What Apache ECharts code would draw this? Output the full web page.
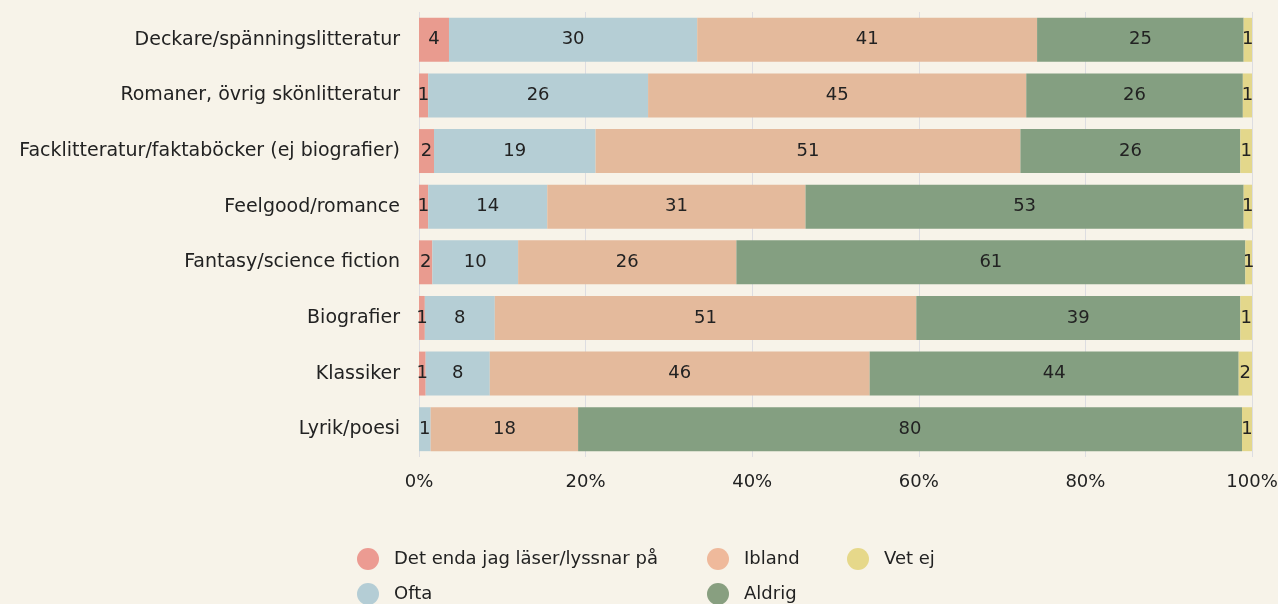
<!DOCTYPE html>
<html>
    <head>
        <meta charset="utf-8">
        <title>Läsvanor per genre</title>
        <script src="https://cdn.jsdelivr.net/npm/echarts@6/dist/echarts.min.js"></script>
        <style>
            html, body { margin: 0; padding: 0; background: #f7f3e9; }
            #chart { width: 1278px; height: 604px; }
        </style>
    </head>
    <body>
        <div id="chart"></div>
    </body>

    <script type="text/javascript">
        // kategorier (uppifrån och ned)
        var categories = [
            'Deckare/spänningslitteratur',
            'Romaner, övrig skönlitteratur',
            'Facklitteratur/faktaböcker (ej biografier)',
            'Feelgood/romance',
            'Fantasy/science fiction',
            'Biografier',
            'Klassiker',
            'Lyrik/poesi'
        ];
        var seriesNames = ['Det enda jag läser/lyssnar på', 'Ofta', 'Ibland', 'Aldrig', 'Vet ej'];
        // andelar i procent
        var detEnda = [3.6, 1.1, 1.8, 1.1, 1.6, 0.7, 0.8, 0];
        var ofta    = [29.8, 26.4, 19.4, 14.3, 10.3, 8.4, 7.7, 1.4];
        var ibland  = [40.8, 45.4, 51.0, 31.0, 26.2, 50.6, 45.6, 17.7];
        var aldrig  = [24.8, 26.0, 26.4, 52.6, 61.1, 38.9, 44.3, 79.7];
        var vetEj   = [1.0, 1.1, 1.4, 1.0, 0.8, 1.4, 1.6, 1.2];
        var xTicks = [0, 20, 40, 60, 80, 100];

        var colors = ['#e99b8f', '#b5ced5', '#e4ba9c', '#849f81', '#e3d78b'];
        var legendColors = ['#ec9b92', '#b4cdd5', '#efb99b', '#889f80', '#e6d88a'];
        var font = 'DejaVu Sans';

        var myChart = echarts.init(document.getElementById('chart'));

        var values = [detEnda, ofta, ibland, aldrig, vetEj];
        var series = values.map(function (arr, i) {
            return {
                name: seriesNames[i],
                type: 'bar',
                stack: 'total',
                barCategoryGap: '21%',
                data: arr,
                itemStyle: { color: colors[i] },
                label: {
                    show: true,
                    position: 'inside',
                    color: '#222',
                    fontFamily: font,
                    fontSize: 18,
                    formatter: function (p) {
                        return p.value > 0 ? Math.round(p.value) : '';
                    }
                }
            };
        });

        function legendItems(idx) {
            return idx.map(function (i) {
                return { name: seriesNames[i], itemStyle: { color: legendColors[i] } };
            });
        }

        var legendBase = {
            orient: 'vertical',
            top: 548,
            height: 100,
            icon: 'circle',
            itemWidth: 22,
            itemHeight: 22,
            itemGap: 13,
            padding: 0,
            textStyle: { fontFamily: font, fontSize: 18, color: '#222', padding: [0, 0, 0, 10] }
        };

        myChart.setOption({
            backgroundColor: '#f7f3e9',
            animation: false,
            grid: { left: 419, right: 26, top: 12, bottom: 147, outerBoundsMode: 'none' },
            legend: [
                Object.assign({}, legendBase, { left: 357, data: legendItems([0, 1]) }),
                Object.assign({}, legendBase, { left: 707, data: legendItems([2, 3]) }),
                Object.assign({}, legendBase, { left: 847, data: legendItems([4]) })
            ],
            xAxis: {
                type: 'value',
                min: xTicks[0],
                max: xTicks[xTicks.length - 1],
                interval: 20,
                axisLine: { show: false },
                axisTick: { show: false },
                splitLine: { show: true, lineStyle: { color: '#dddde1', width: 1 } },
                axisLabel: {
                    formatter: '{value}%',
                    color: '#222',
                    fontFamily: font,
                    fontSize: 18,
                    margin: 16
                }
            },
            yAxis: {
                type: 'category',
                inverse: true,
                data: categories,
                axisLine: { show: false },
                axisTick: { show: false },
                axisLabel: {
                    color: '#222',
                    fontFamily: font,
                    fontSize: 19,
                    margin: 19
                }
            },
            series: series
        });
    </script>
</html>
